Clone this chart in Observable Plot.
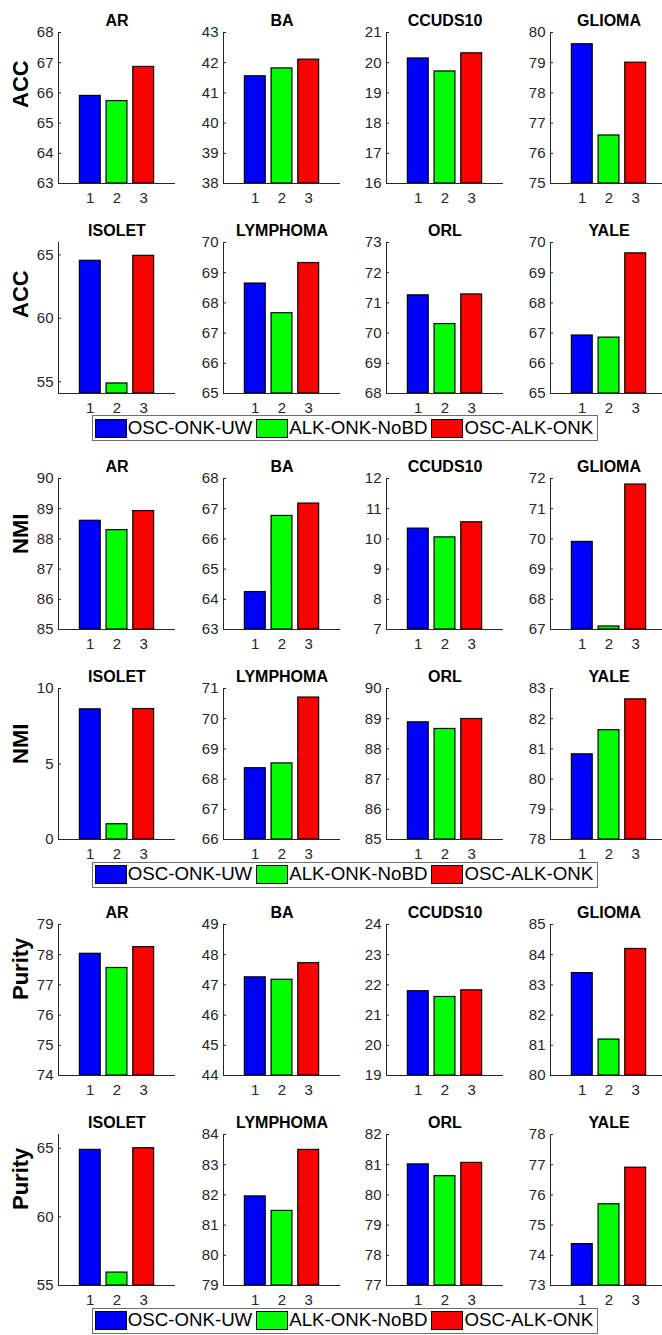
<!DOCTYPE html>
<html><head><meta charset="utf-8">
<script src="https://cdn.jsdelivr.net/npm/d3@7"></script>
<script src="https://cdn.jsdelivr.net/npm/@observablehq/plot@0.6"></script>
<style>
html,body{margin:0;padding:0;background:#fff;overflow:hidden;}
#chart{position:relative;width:662px;height:1335px;overflow:hidden;font-family:"Liberation Sans",Arial,Helvetica,sans-serif;background:#fff;}
.panel{position:absolute;}
.legend{position:absolute;display:inline-flex;align-items:center;border:1px solid #6e6e6e;background:#fff;height:26px;padding:0 4px 0 2px;box-sizing:border-box;white-space:nowrap;}
.sw{width:32px;height:19px;border:1.5px solid #000;box-sizing:border-box;margin-right:1px;flex:none;}
.lab{font-size:18.7px;color:#000;margin-right:4px;line-height:1;}
.lab:last-child{margin-right:0;}
</style></head><body><div id="chart"></div>
<script>
// ---- data ----
const methods = ["OSC-ONK-UW", "ALK-ONK-NoBD", "OSC-ALK-ONK"];
const methodColors = ["#0000ff", "#00ff00", "#ff0000"];
const methodIds = [1, 2, 3];
const metrics = ["ACC", "NMI", "Purity"];
const datasets = ["AR", "BA", "CCUDS10", "GLIOMA", "ISOLET", "LYMPHOMA", "ORL", "YALE"];

const accValues = [
  [65.90, 65.73, 66.86], [41.55, 41.81, 42.10], [20.14, 19.71, 20.31], [79.61, 76.59, 79.00],
  [64.53, 54.87, 64.92], [68.64, 67.66, 69.32], [71.25, 70.30, 71.28], [66.92, 66.85, 69.64]
];
const accLimits = [[63, 68], [38, 43], [16, 21], [75, 80], [54.08, 65.97], [65, 70], [68, 73], [65, 70]];

const nmiValues = [
  [88.60, 88.29, 88.92], [64.24, 66.76, 67.17], [10.34, 10.05, 10.55], [69.90, 67.10, 71.80],
  [8.62, 1.01, 8.64], [68.36, 68.52, 70.70], [88.88, 88.66, 88.99], [80.82, 81.62, 82.64]
];
const nmiLimits = [[85, 90], [63, 68], [7, 12], [67, 72], [0, 10], [66, 71], [85, 90], [78, 83]];

const purityValues = [
  [78.03, 77.56, 78.25], [47.25, 47.17, 47.72], [21.79, 21.60, 21.82], [83.39, 81.19, 84.19],
  [64.88, 55.94, 65.00], [81.95, 81.47, 83.49], [81.01, 80.62, 81.06], [74.37, 75.69, 76.90]
];
const purityLimits = [[74, 79], [44, 49], [19, 24], [80, 85], [55, 66], [79, 84], [77, 82], [73, 78]];

const tickSteps = [1, 1, 1, 1, 5, 1, 1, 1];

// ---- layout ----
const AX = "#262626";
const FONT = "Liberation Sans, Arial, Helvetica, sans-serif";
const AXIS_W = 117, AXIS_H = 151;
const colX = [58.3, 222.5, 386, 550];
const rowTop = [31.7, 241.7, 478.3, 688.3, 924.3, 1134.3];
const X_DOMAIN = [-0.19, 4.19];
const BAR_W = 0.78;
const M = {left: 60, right: 12, top: 34, bottom: 30};

const chart = document.getElementById("chart");
const metricValues = [accValues, nmiValues, purityValues];
const metricLimits = [accLimits, nmiLimits, purityLimits];

function panel(name, vals, lim, step, ylabel) {
  const data = methodIds.map((id, i) => ({id, v: vals[i], c: methodColors[i]}));
  const ticks = d3.range(Math.ceil(lim[0] / step - 1e-9) * step, lim[1] + 1e-9, step);
  const marks = [
    Plot.rectY(data, {x1: d => d.id - BAR_W / 2, x2: d => d.id + BAR_W / 2, y1: lim[0], y2: "v", fill: "c", stroke: "#000", strokeWidth: 1.2}),
    Plot.ruleY([lim[0]], {stroke: AX, strokeWidth: 1}),
    Plot.ruleX([X_DOMAIN[0]], {stroke: AX, strokeWidth: 1}),
    Plot.tickY(ticks, {y: d => d, stroke: AX, strokeWidth: 1, insetRight: AXIS_W - 3}),
    Plot.axisX(methodIds, {tickSize: 0, tickPadding: 8.5, fontSize: 15, fill: AX, label: null, tickFormat: d => String(d)}),
    Plot.axisY(ticks, {tickSize: 0, tickPadding: 5, fontSize: 15, fill: AX, label: null, tickFormat: d => String(d)}),
    Plot.text([name], {frameAnchor: "top", dy: -12, lineAnchor: "middle", fontWeight: "bold", fontSize: 16, fill: "#000"})
  ];
  if (ylabel) marks.push(Plot.text([ylabel], {frameAnchor: "left", rotate: -90, dx: -37.5, lineAnchor: "middle", fontWeight: "bold", fontSize: 22, fill: "#000"}));
  return Plot.plot({
    width: M.left + AXIS_W + M.right,
    height: M.top + AXIS_H + M.bottom,
    marginLeft: M.left, marginRight: M.right, marginTop: M.top, marginBottom: M.bottom,
    x: {type: "linear", domain: X_DOMAIN},
    y: {domain: lim},
    color: {type: "identity"},
    style: {fontFamily: FONT, fontSize: "15px", overflow: "visible", background: "transparent"},
    marks
  });
}

for (let m = 0; m < metrics.length; m++) {
  for (let half = 0; half < 2; half++) {
    const r = m * 2 + half;
    for (let c = 0; c < 4; c++) {
      const k = half * 4 + c;
      const svg = panel(datasets[k], metricValues[m][k], metricLimits[m][k], tickSteps[k], c === 0 ? metrics[m] : null);
      svg.classList.add("panel");
      svg.style.position = "absolute";
      svg.style.left = (colX[c] - M.left) + "px";
      svg.style.top = (rowTop[r] - M.top) + "px";
      svg.style.maxWidth = "none";
      chart.appendChild(svg);
    }
    if (half === 1) {
      const lg = document.createElement("div");
      lg.className = "legend";
      lg.style.left = "91.7px";
      lg.style.top = (rowTop[r] + AXIS_H + 22.3) + "px";
      methods.forEach((name, i) => {
        const sw = document.createElement("div");
        sw.className = "sw";
        sw.style.background = methodColors[i];
        const lab = document.createElement("span");
        lab.className = "lab";
        lab.textContent = name;
        lg.appendChild(sw);
        lg.appendChild(lab);
      });
      chart.appendChild(lg);
    }
  }
}
</script></body></html>
